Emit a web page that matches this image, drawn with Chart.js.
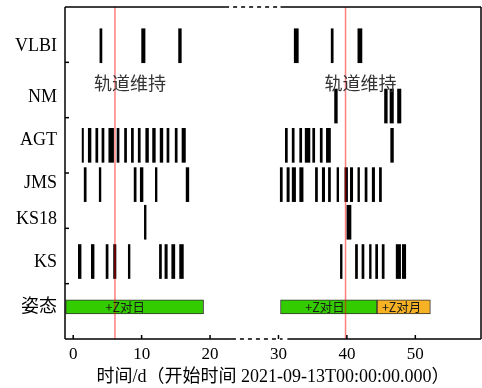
<!DOCTYPE html>
<html>
<head>
<meta charset="utf-8">
<script src="https://cdn.jsdelivr.net/npm/chart.js@4/dist/chart.umd.min.js"></script>
<style>
  html, body { margin: 0; padding: 0; background: #fff; }
  #wrap { width: 482px; height: 388px; }
</style>
</head>
<body>
<div id="wrap"><canvas id="chart"></canvas></div>
<script>
// rows (bottom to top on the y scale)
const rowNames = ["VLBI", "NM", "AGT", "JMS", "KS18", "KS", "姿态"];
const rowY = [5.30, 4.21, 3.50, 2.79, 2.11, 1.40, 0.58];
const labelY = [5.29, 4.37, 3.60, 2.82, 2.17, 1.39, 0.58];
const rowTicks = [1, 2, 3, 4, 5];
const xTicks = [0, 10, 20, 30, 40, 50];

// event spans [start, end] in days
const vlbi = [[3.9, 4.2], [10.0, 10.5], [15.4, 15.8], [32.3, 32.9], [37.7, 38.0], [41.6, 42.2]];
const nm = [[38.2, 38.6], [45.5, 45.9], [46.3, 46.8], [47.4, 47.9]];
const agt = [[1.3, 1.5], [2.2, 2.6], [3.3, 3.6], [4.2, 4.5], [5.2, 5.9], [6.4, 6.7], [7.5, 7.8], [8.5, 8.8],
  [9.5, 9.8], [10.6, 11.0], [11.6, 12.0], [12.7, 13.1], [13.7, 14.0], [14.9, 15.2], [15.9, 16.4],
  [31.0, 31.3], [32.0, 32.3], [33.1, 33.4], [33.9, 34.6], [35.0, 35.3], [36.1, 36.4], [37.0, 37.6], [46.4, 46.8]];
const jms = [[1.6, 1.9], [3.8, 4.05], [8.9, 9.2], [9.8, 10.2], [12.0, 12.25], [16.5, 16.9],
  [30.26, 30.56], [31.24, 31.58], [32.0, 32.5], [33.1, 33.6], [35.4, 35.7], [36.4, 36.75], [37.3, 37.6],
  [38.55, 38.8], [39.7, 40.1], [40.5, 40.85], [41.6, 41.85], [42.65, 42.95], [43.7, 44.05], [44.75, 45.05]];
const ks18 = [[10.4, 10.65], [40.0, 40.6]];
const ks = [[0.75, 1.15], [2.65, 3.05], [4.8, 5.1], [5.9, 6.25], [8.05, 8.3], [12.6, 12.9], [13.4, 13.75],
  [14.4, 14.85], [15.55, 16.1], [39.05, 39.3], [41.25, 41.55], [42.2, 42.5], [43.3, 43.55], [44.2, 44.5],
  [45.15, 45.45], [47.2, 47.85], [48.1, 48.6]];

// attitude modes
const sunSpans = [[-1.1, 19.05], [30.3, 44.4]];
const moonSpans = [[44.4, 52.2]];
const modeText = ["+Z对日", "+Z对日", "+Z对月"];
const modeTextX = [7.6, 36.8, 48.0];

// orbit maintenance
const maintX = [6.1, 39.8];
const maintText = "轨道维持";
const maintTextY = 4.63;

const serif = "'Liberation Serif', 'Noto Sans CJK SC', serif";
const cjk = "'Noto Sans CJK SC', sans-serif";

const toBars = (spans, y) => spans.map(s => ({ x: s, y: y }));

const eventRows = [vlbi, nm, agt, jms, ks18, ks];
const datasets = eventRows.map((spans, i) => ({
  type: "bar",
  label: rowNames[i],
  data: toBars(spans, rowY[i]),
  indexAxis: "y",
  grouped: false,
  barThickness: 34,
  backgroundColor: "#000",
  borderWidth: 0,
  order: 2
}));

datasets.push({
  type: "bar",
  label: "sun",
  data: toBars(sunSpans, rowY[6]),
  indexAxis: "y",
  grouped: false,
  barThickness: 14,
  backgroundColor: "#33cc00",
  borderColor: "#333",
  borderWidth: 1,
  borderSkipped: false,
  order: 2
});
datasets.push({
  type: "bar",
  label: "moon",
  data: toBars(moonSpans, rowY[6]),
  indexAxis: "y",
  grouped: false,
  barThickness: 14,
  backgroundColor: "#f7b125",
  borderColor: "#333",
  borderWidth: 1,
  borderSkipped: false,
  order: 2
});

maintX.forEach(x => {
  datasets.push({
    type: "line",
    label: "maint",
    data: [{ x: x, y: 0 }, { x: x, y: 6 }],
    borderColor: "rgba(255,0,0,0.5)",
    borderWidth: 1.5,
    pointRadius: 0,
    order: 0
  });
});

const extras = {
  id: "extras",
  afterDatasetsDraw(chart) {
    const ctx = chart.ctx;
    const xs = chart.scales.x, ys = chart.scales.y;
    ctx.save();
    // mode labels
    ctx.font = "12.5px " + cjk;
    ctx.fillStyle = "#1a1a1a";
    ctx.textAlign = "center";
    ctx.textBaseline = "middle";
    modeText.forEach((t, i) => {
      ctx.fillText(t, xs.getPixelForValue(modeTextX[i]), ys.getPixelForValue(rowY[6]) + 0.5);
    });
    // maintenance labels
    ctx.font = "18px " + cjk;
    ctx.fillStyle = "#333";
    maintX.forEach(x => {
      ctx.fillText(maintText, xs.getPixelForValue(x + 2.2), ys.getPixelForValue(maintTextY));
    });
    ctx.restore();
  },
  afterDraw(chart) {
    const ctx = chart.ctx;
    const xs = chart.scales.x, ys = chart.scales.y;
    const { left, right, top, bottom } = chart.chartArea;
    const px = v => xs.getPixelForValue(v);
    ctx.save();
    ctx.strokeStyle = "#000";
    ctx.lineWidth = 1.5;
    const seg = (x1, y1, x2, y2, dash) => {
      ctx.setLineDash(dash || []);
      ctx.beginPath();
      ctx.moveTo(x1, y1);
      ctx.lineTo(x2, y2);
      ctx.stroke();
    };
    // left and right
    seg(left, top, left, bottom);
    seg(right, top, right, bottom);
    // top with break
    seg(left, top, px(22.2), top);
    seg(px(22.2), top, px(30.3), top, [4, 4]);
    seg(px(30.3), top, right, top);
    // bottom with break
    seg(left, bottom, px(23.2), bottom);
    seg(px(23.2), bottom, px(30.6), bottom, [4, 4]);
    seg(px(31.3), bottom, right, bottom);
    // inward ticks
    xTicks.forEach(v => seg(px(v), bottom, px(v), bottom - 4));
    rowTicks.forEach(v => seg(left, ys.getPixelForValue(v), left + 4, ys.getPixelForValue(v)));
    ctx.restore();
  }
};

new Chart(document.getElementById("chart"), {
  type: "bar",
  data: { datasets: datasets },
  options: {
    responsive: true,
    maintainAspectRatio: false,
    animation: false,
    layout: { padding: { left: 0, right: 1, top: 7, bottom: 0 } },
    plugins: { legend: { display: false }, tooltip: { enabled: false } },
    scales: {
      x: {
        type: "linear",
        offset: false,
        min: -1.2,
        max: 59.6,
        grid: { display: false, drawTicks: false },
        border: { display: false },
        afterBuildTicks: s => { s.ticks = xTicks.map(v => ({ value: v })); },
        afterFit: s => { s.height = 49; s.paddingLeft = 0; s.paddingRight = 0; },
        ticks: { color: "#000", padding: 5, font: { family: serif, size: 17 } },
        title: {
          display: true,
          text: "时间/d（开始时间 2021-09-13T00:00:00.000）",
          color: "#000",
          padding: { top: 0, bottom: 0 },
          font: { family: serif, size: 18 }
        }
      },
      y: {
        type: "linear",
        offset: false,
        min: 0,
        max: 6,
        grid: { display: false, drawTicks: false },
        border: { display: false },
        afterBuildTicks: s => { s.ticks = labelY.map(v => ({ value: v })); },
        afterFit: s => { s.width = 65; s.paddingTop = 0; s.paddingBottom = 0; },
        ticks: {
          color: "#000",
          padding: 8,
          font: { family: serif, size: 18 },
          callback: (v) => rowNames[labelY.indexOf(v)]
        }
      }
    }
  },
  plugins: [extras]
});
</script>
</body>
</html>
